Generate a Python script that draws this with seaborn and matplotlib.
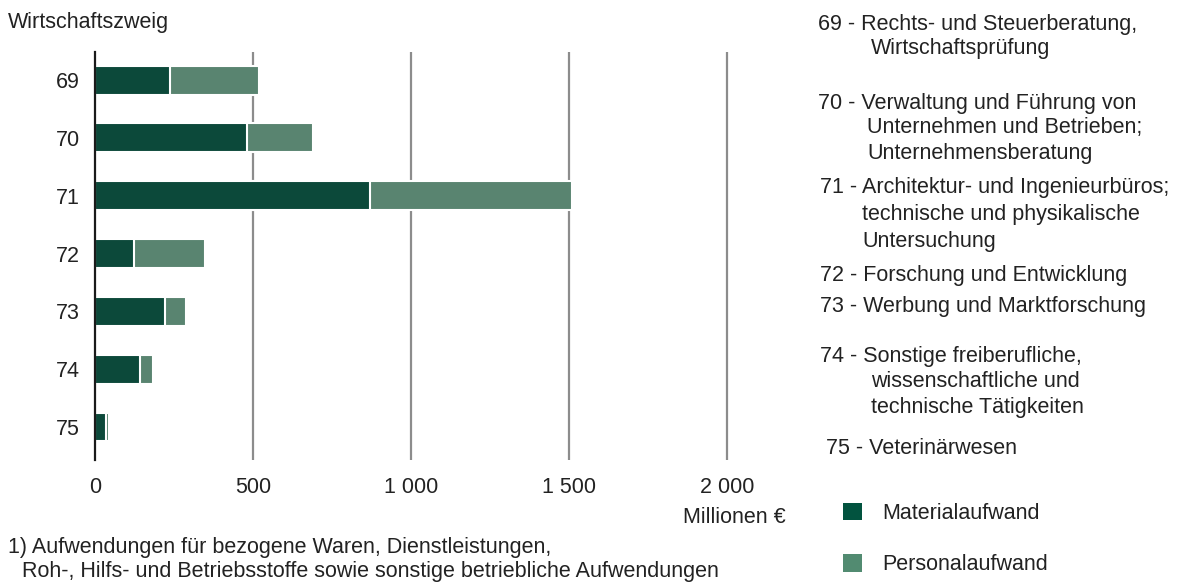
import matplotlib
matplotlib.use("Agg")
import matplotlib.pyplot as plt
import seaborn as sns
import pandas as pd
from matplotlib.patches import Patch

# ---- data ----
codes = ["69", "70", "71", "72", "73", "74", "75"]
materialaufwand = [236, 480, 871, 124, 223, 143, 34]
personalaufwand = [284, 211, 639, 224, 66, 40, 11]
x_ticks = [0, 500, 1000, 1500, 2000]
x_tick_labels = ["0", "500", "1 000", "1 500", "2 000"]
branch_labels = [
    ["69 - Rechts- und Steuerberatung,", "Wirtschaftsprüfung"],
    ["70 - Verwaltung und Führung von", "Unternehmen und Betrieben;", "Unternehmensberatung"],
    ["71 - Architektur- und Ingenieurbüros;", "technische und physikalische", "Untersuchung"],
    ["72 - Forschung und Entwicklung"],
    ["73 - Werbung und Marktforschung"],
    ["74 - Sonstige freiberufliche,", "wissenschaftliche und", "technische Tätigkeiten"],
    ["75 - Veterinärwesen"],
]
footnote = ["1) Aufwendungen für bezogene Waren, Dienstleistungen,",
            "Roh-, Hilfs- und Betriebsstoffe sowie sonstige betriebliche Aufwendungen"]

df = pd.DataFrame({"code": codes, "Material": materialaufwand, "Personal": personalaufwand})
df["Total"] = df["Material"] + df["Personal"]

DARK = "#02533f"
LIGHT = "#528b71"
TEXT = "#222222"
GRID = "#8c8c8c"

sns.set_style("white")
plt.rcParams["font.family"] = ["Liberation Sans", "DejaVu Sans"]
FS = 15.5

W, H = 1178, 582
fig = plt.figure(figsize=(W / 100, H / 100), dpi=100)

def fx(x):
    return x / W

def fy(y):
    return 1 - y / H

ax_left, ax_right = 95, 95 + 2100 * 0.316
ax_top, ax_bot = 52, 460
ax = fig.add_axes([fx(ax_left), fy(ax_bot), (ax_right - ax_left) / W, (ax_bot - ax_top) / H])

sns.barplot(data=df, y="code", x="Total", color=LIGHT, orient="h", width=0.5,
            edgecolor="white", linewidth=1.5, ax=ax, zorder=3)
sns.barplot(data=df, y="code", x="Material", color=DARK, orient="h", width=0.5,
            edgecolor="white", linewidth=1.5, ax=ax, zorder=4)

ax.set_xlim(0, 2100)
ax.set_ylim(6.57, -0.485)
ax.set_xticks(x_ticks)
ax.set_xticklabels(x_tick_labels)
ax.set_xlabel("")
ax.set_ylabel("")
for v in x_ticks[1:]:
    ax.axvline(v, color=GRID, lw=1.6, zorder=1)
ax.tick_params(axis="both", length=0, labelsize=FS, colors=TEXT)
ax.tick_params(axis="x", pad=12)
ax.tick_params(axis="y", pad=11)
for s in ["top", "right", "bottom"]:
    ax.spines[s].set_visible(False)
ax.spines["left"].set_color("#1a1a1a")
ax.spines["left"].set_linewidth(1.6)
ax.spines["left"].set_zorder(5)

def txt(x, y, s, ha="left"):
    fig.text(fx(x), fy(y), s, fontsize=FS, color=TEXT, va="baseline", ha=ha)

# texts (y = baseline in pixels)
txt(8, 28, "Wirtschaftszweig")
txt(786, 523, "Millionen €", ha="right")
txt(8, 553, footnote[0])
txt(22, 577, footnote[1])

# branch descriptions
ys = [[30, 54], [109, 133, 159], [193, 220, 247], [281], [312], [362, 387, 413], [454]]
x_first = [818, 818, 820, 820, 820, 820, 826]
x_cont = [[871], [867, 867], [862, 862], [], [], [871, 871], []]
for lines, yy, x0, xc in zip(branch_labels, ys, x_first, x_cont):
    for i, (t, y) in enumerate(zip(lines, yy)):
        x = x0 if i == 0 else xc[i - 1]
        txt(x, y, t)

handles = [Patch(facecolor=DARK, edgecolor="none", label="Materialaufwand"),
           Patch(facecolor=LIGHT, edgecolor="none", label="Personalaufwand")]
fig.legend(handles=handles, loc="upper left", bbox_to_anchor=(fx(834), fy(494)),
           frameon=False, fontsize=FS, labelcolor=TEXT, handlelength=0.9, handleheight=0.9,
           handletextpad=0.95, labelspacing=1.4, borderaxespad=0)

fig.savefig("out.png", dpi=100)
